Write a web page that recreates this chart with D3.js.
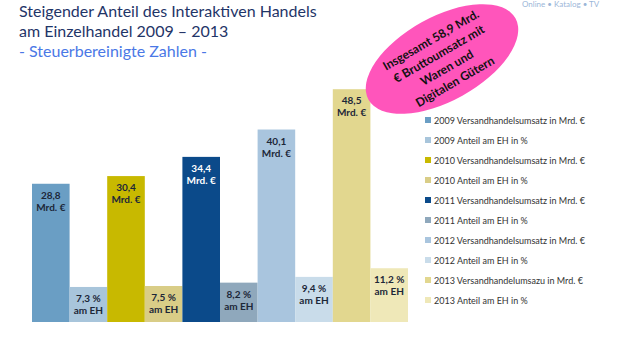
<!DOCTYPE html>
<html>
<head>
<meta charset="utf-8">
<script src="https://cdn.jsdelivr.net/npm/d3@7"></script>
<style>
	body { margin: 0; background: #fff; }
	svg { font-family: Lato, "Open Sans", sans-serif; }
</style>
</head>
<body>
<div id="chart"></div>
<script>

var years = [2009, 2010, 2011, 2012, 2013];
var umsatz = [28.8, 30.4, 34.4, 40.1, 48.5]; //Mrd. €
var anteil = [7.3, 7.5, 8.2, 9.4, 11.2]; //% am EH
var legendLabels = [
	"2009 Versandhandelsumsatz in Mrd. €",
	"2009 Anteil am EH in %",
	"2010 Versandhandelsumsatz in Mrd. €",
	"2010 Anteil am EH in %",
	"2011 Versandhandelsumsatz in Mrd. €",
	"2011 Anteil am EH in %",
	"2012 Versandhandelsumsatz in Mrd. €",
	"2012 Anteil am EH in %",
	"2013 Versandhandelumsazu in Mrd. €",
	"2013 Anteil am EH in %"
];
var colors = ["#6a9ec4", "#a8c5db", "#c8b900", "#d9cd87", "#0b4a8a",
	"#8fa8bc", "#a9c5de", "#c9dcea", "#e2d78f", "#efe8b8"];
var calloutLines = ["Insgesamt 58,9 Mrd.", "€ Bruttoumsatz mit", "Waren und", "Digitalen Gütern"];

var w = 620, h = 350;

//flatten: one bar per year for Umsatz, one for Anteil
var bars = [];
years.forEach(function(y, i) {
	bars.push({ key: y + "u", value: umsatz[i], top: String(umsatz[i]).replace(".", ","), bottom: "Mrd. €" });
	bars.push({ key: y + "a", value: anteil[i], top: String(anteil[i]).replace(".", ",") + " %", bottom: "am EH" });
});

var svg = d3.select("#chart")
	.append("svg")
	.attr("width", w)
	.attr("height", h);

var xScale = d3.scaleBand()
	.domain(bars.map(d => d.key))
	.range([32, 408])
	.padding(0);

var yScale = d3.scaleLinear()
	.domain([0, 50])
	.range([322, 82]);

svg.selectAll("rect.bar")
	.data(bars)
	.enter()
	.append("rect")
	.attr("class", "bar")
	.attr("x", d => xScale(d.key))
	.attr("y", d => yScale(d.value))
	.attr("width", xScale.bandwidth())
	.attr("height", d => yScale(0) - yScale(d.value))
	.attr("fill", (d, i) => colors[i]);

var labels = svg.selectAll("g.lbl")
	.data(bars)
	.enter()
	.append("g")
	.attr("class", "lbl")
	.attr("transform", d => "translate(" + (xScale(d.key) + xScale.bandwidth() / 2) + "," + yScale(d.value) + ")")
	.attr("fill", (d, i) => i == 4 ? "#ffffff" : "#1c2738")
	.attr("font-size", 10)
	.attr("font-weight", "bold")
	.attr("text-anchor", "middle");

labels.append("text").attr("y", 15).text(d => d.top);
labels.append("text").attr("y", 27).text(d => d.bottom);

//legend
var legend = svg.selectAll("g.legend")
	.data(legendLabels)
	.enter()
	.append("g")
	.attr("class", "legend")
	.attr("transform", (d, i) => "translate(425," + (120 + i * 20) + ")");

legend.append("rect")
	.attr("x", 0)
	.attr("y", -3)
	.attr("width", 6)
	.attr("height", 6)
	.attr("fill", (d, i) => colors[i]);

legend.append("text")
	.attr("x", 9)
	.attr("y", 3.5)
	.attr("font-size", 9)
	.attr("fill", "#333")
	.text(d => d);

//titles
var title = svg.append("g").attr("fill", "#1f3568").attr("font-size", 16);
title.append("text").attr("x", 19).attr("y", 17).text("Steigender Anteil des Interaktiven Handels");
title.append("text").attr("x", 19).attr("y", 37).text("am Einzelhandel 2009 – 2013");
svg.append("text")
	.attr("x", 19).attr("y", 57)
	.attr("font-size", 16)
	.attr("fill", "#4a78e6")
	.text("- Steuerbereinigte Zahlen -");

svg.append("text")
	.attr("x", 522).attr("y", 7)
	.attr("font-size", 8)
	.attr("fill", "#9bb6d8")
	.text("Online • Katalog • TV");

//pink callout
svg.append("ellipse")
	.attr("transform", "translate(442,59) rotate(-29)")
	.attr("rx", 84)
	.attr("ry", 42)
	.attr("fill", "#ff55bb");

svg.append("g")
	.attr("transform", "translate(443,61) rotate(-30)")
	.attr("font-size", 12)
	.attr("font-weight", "bold")
	.attr("text-anchor", "middle")
	.attr("fill", "#111")
	.selectAll("text")
	.data(calloutLines)
	.enter()
	.append("text")
	.attr("y", (d, i) => -20 + i * 16)
	.text(d => d);

</script>
</body>
</html>
